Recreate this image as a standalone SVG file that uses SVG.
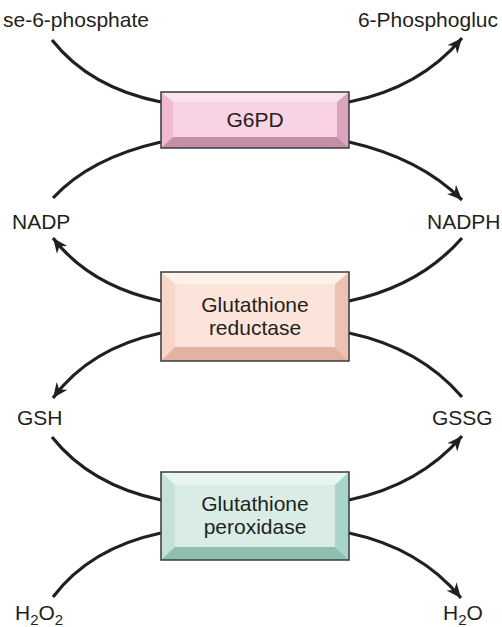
<svg xmlns="http://www.w3.org/2000/svg" width="502" height="627" viewBox="0 0 502 627">
<defs>
<marker id="ah" markerUnits="userSpaceOnUse" viewBox="-15 -7 16 14" refX="0" refY="0" markerWidth="16" markerHeight="14" orient="auto">
<path d="M0,0 L-15,-6.5 L-10.5,0 L-15,6.5 Z" fill="#231f20"/>
</marker>
<style>
text{font-family:"Liberation Sans",Arial,sans-serif;font-size:21px;fill:#231f20}
.c{text-anchor:middle}
.conn path{fill:none;stroke:#231f20;stroke-width:3.2}
.a{marker-end:url(#ah)}
.edge{fill:none;stroke:#3a3a3a;stroke-width:1.5}
</style>
</defs>
<rect width="502" height="627" fill="#fff"/>
<g id="connectors" class="conn">
<path d="M52,40 Q90,88 161,102"/>
<path class="a" d="M349,102 Q420,88 462,38"/>
<path d="M161,142 Q90,158 53,198"/>
<path class="a" d="M349,142 Q420,158 462,200"/>
<path class="a" d="M161,301 Q90,286 53,238"/>
<path d="M462,238 Q420,286 349,301"/>
<path class="a" d="M161,333 Q90,348 53,398"/>
<path d="M462,397 Q420,348 349,333"/>
<path d="M52,437 Q90,485 161,500"/>
<path class="a" d="M349,500 Q420,485 462,436"/>
<path d="M161,533 Q90,548 53,597"/>
<path class="a" d="M349,533 Q420,548 461,598"/>
</g>
<g id="g6pd">
<rect x="161" y="92" width="188" height="56" fill="#f9d2e3"/>
<polygon points="161,92 349,92 337,102 173,102" fill="#fbe3ee"/>
<polygon points="161,92 173,102 173,137 161,148" fill="#f2b9d3"/>
<polygon points="349,92 349,148 337,137 337,102" fill="#d9a4bd"/>
<polygon points="161,148 173,137 337,137 349,148" fill="#c48ea9"/>
<rect class="edge" x="161" y="92" width="188" height="56"/>
<text class="c" x="255" y="127">G6PD</text>
</g>
<g id="reductase">
<rect x="161" y="272" width="188" height="89" fill="#fce4da"/>
<polygon points="161,272 349,272 335,284 175,284" fill="#fdf1ec"/>
<polygon points="161,272 175,284 175,347 161,361" fill="#f8d6c8"/>
<polygon points="349,272 349,361 335,347 335,284" fill="#ecc2b2"/>
<polygon points="161,361 175,347 335,347 349,361" fill="#e2b3a1"/>
<rect class="edge" x="161" y="272" width="188" height="89"/>
<text class="c" x="255" y="312">Glutathione</text>
<text class="c" x="255" y="335">reductase</text>
</g>
<g id="peroxidase">
<rect x="161" y="472" width="188" height="88" fill="#d9ede6"/>
<polygon points="161,472 349,472 335,485 175,485" fill="#e9f5f2"/>
<polygon points="161,472 175,485 175,547 161,560" fill="#c4e2d9"/>
<polygon points="349,472 349,560 335,547 335,485" fill="#a8d4c9"/>
<polygon points="161,560 175,547 335,547 349,560" fill="#8fbfb1"/>
<rect class="edge" x="161" y="472" width="188" height="88"/>
<text class="c" x="255" y="511">Glutathione</text>
<text class="c" x="255" y="534">peroxidase</text>
</g>
<g id="glucose6p"><text x="3" y="27">se-6-phosphate</text></g>
<g id="phosphogluconate"><text x="498" y="27" text-anchor="end">6-Phosphogluc</text></g>
<g id="nadp"><text x="12" y="229">NADP</text></g>
<g id="nadph"><text x="427" y="229">NADPH</text></g>
<g id="gsh"><text x="17" y="425">GSH</text></g>
<g id="gssg"><text x="432" y="425">GSSG</text></g>
<g id="h2o2"><text x="15" y="620">H<tspan font-size="15" dy="5">2</tspan><tspan dy="-5">O</tspan><tspan font-size="15" dy="5">2</tspan></text></g>
<g id="h2o"><text x="443" y="620">H<tspan font-size="15" dy="5">2</tspan><tspan dy="-5">O</tspan></text></g>
</svg>
